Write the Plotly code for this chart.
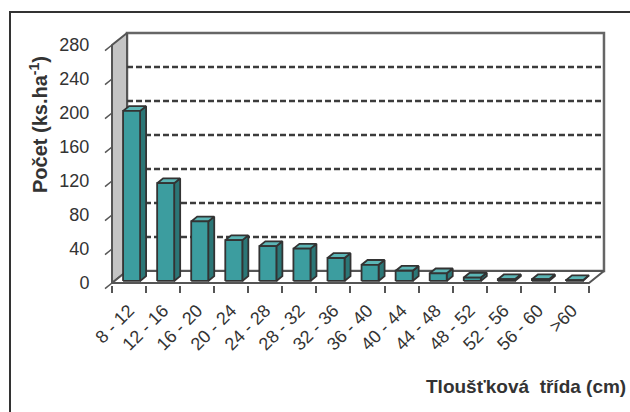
import plotly.graph_objects as go

# Diameter classes and tree counts per hectare
classes = ["8 - 12", "12 - 16", "16 - 20", "20 - 24", "24 - 28", "28 - 32", "32 - 36",
           "36 - 40", "40 - 44", "44 - 48", "48 - 52", "52 - 56", "56 - 60", ">60"]
counts = [200, 115, 70, 48, 41, 38, 27, 19, 12, 9, 4, 2, 2, 1]
y_ticks = [0, 40, 80, 120, 160, 200, 240, 280]
y_top = 280

# Page / plot-area geometry (pixels)
W, H = 630, 412
L, R, T, B = 110, 612, 30, 285
X0, Y0 = 112, 283          # pixel position of the front-left floor corner
KX = 34.07                 # pixels per category
KY = 0.85                  # pixels per count unit

# Oblique depth of the 3-D box, in data units
DX = 15 / KX
DY = 12 / KY
BAR_W = 0.5
Z0, Z1 = 0.17, 0.57        # bar depth, as fractions of the box depth

n = len(classes)
x_range = [(L - X0) / KX, (R - X0) / KX]
y_range = [(Y0 - B) / KY, (Y0 - T) / KY]


def xp(px):
    return (px - L) / (R - L)


def yp(py):
    return (B - py) / (B - T)


def poly_trace(polys, fill, line_color, width):
    xs, ys = [], []
    for pts in polys:
        pts = pts + [pts[0]]
        xs += [p[0] for p in pts] + [None]
        ys += [p[1] for p in pts] + [None]
    return go.Scatter(x=xs, y=ys, mode="lines", fill="toself", fillcolor=fill,
                      line=dict(color=line_color, width=width), hoverinfo="skip",
                      showlegend=False)


fig = go.Figure()

# Walls and floor
left_wall = [(0, 0), (0, y_top), (DX, y_top + DY), (DX, DY)]
back_wall = [(DX, DY), (n + DX, DY), (n + DX, y_top + DY), (DX, y_top + DY)]
floor = [(0, 0), (n, 0), (n + DX, DY), (DX, DY)]
fig.add_trace(poly_trace([back_wall], "white", "#666666", 2.5))
fig.add_trace(poly_trace([left_wall], "#c4c4c4", "#555555", 2))
fig.add_trace(poly_trace([floor], "white", "#555555", 2))

# Dashed gridlines on the back wall
gx, gy = [], []
for v in y_ticks[1:-1]:
    gx += [DX, n + DX, None]
    gy += [v + DY, v + DY, None]
fig.add_trace(go.Scatter(x=gx, y=gy, mode="lines",
                         line=dict(color="#3c3c3c", width=2.5, dash="6px,3px"),
                         hoverinfo="skip", showlegend=False))

# 3-D columns
fronts, tops, sides = [], [], []
ddx, ddy = (Z1 - Z0) * DX, (Z1 - Z0) * DY
for i, v in enumerate(counts):
    c = i + 0.5
    x0 = c - BAR_W / 2 + Z0 * DX
    x1 = c + BAR_W / 2 + Z0 * DX
    yb = Z0 * DY
    yt = v + Z0 * DY
    fronts.append([(x0, yb), (x1, yb), (x1, yt), (x0, yt)])
    tops.append([(x0, yt), (x1, yt), (x1 + ddx, yt + ddy), (x0 + ddx, yt + ddy)])
    sides.append([(x1, yb), (x1 + ddx, yb + ddy), (x1 + ddx, yt + ddy), (x1, yt)])
fig.add_trace(poly_trace(sides, "#2b7676", "#333333", 1.8))
fig.add_trace(poly_trace(tops, "#5cb6b6", "#333333", 1.8))
fig.add_trace(poly_trace(fronts, "#3c9d9f", "#333333", 1.8))

shapes = []
# Slanted value-axis ticks along the front edge of the side wall
for v in y_ticks:
    py = Y0 - v * KY
    shapes.append(dict(type="line", xref="paper", yref="paper",
                       x0=xp(X0 - 7), y0=yp(py + 5.6), x1=xp(X0), y1=yp(py),
                       line=dict(color="#555555", width=1.5)))
# Chart-area border
shapes.append(dict(type="path", xref="paper", yref="paper",
                   path=f"M {xp(10)} {yp(H + 5)} L {xp(10)} {yp(12)} L {xp(W + 5)} {yp(12)}",
                   line=dict(color="#333333", width=2)))

fig.update_layout(
    width=W, height=H,
    margin=dict(l=L, r=W - R, t=T, b=H - B, pad=0),
    paper_bgcolor="white", plot_bgcolor="rgba(0,0,0,0)",
    font=dict(family="Liberation Sans, Arial, sans-serif", color="#333333"),
    shapes=shapes,
    xaxis=dict(range=x_range, showgrid=False, zeroline=False, showline=False,
               tickmode="array", tickvals=[i + 0.5 for i in range(n)], ticktext=classes,
               tickangle=-45, ticks="outside", ticklen=7, tickcolor="rgba(0,0,0,0)",
               tickfont=dict(size=18, color="#333333"),
               minor=dict(tickmode="array", tickvals=list(range(n + 1)), ticks="outside",
                          ticklen=7, tickwidth=1.5, tickcolor="#555555", showgrid=False)),
    yaxis=dict(range=y_range, showgrid=False, zeroline=False, showline=False,
               tickmode="array", tickvals=y_ticks, ticks="outside", ticklen=16,
               tickcolor="rgba(0,0,0,0)", tickfont=dict(size=18, color="#333333")),
    annotations=[
        dict(text="<b>Počet (ks.ha<sup>-1</sup>)</b>", xref="paper", yref="paper",
             x=xp(38), y=yp(125), xanchor="center", yanchor="middle", textangle=-90,
             showarrow=False, font=dict(size=20, color="#333333")),
        dict(text="<b>Tloušťková  třída (cm)</b>", xref="paper", yref="paper",
             x=xp(628), y=yp(386), xanchor="right", yanchor="middle",
             showarrow=False, font=dict(size=19, color="#333333")),
    ],
)

fig.write_html("out.html")
